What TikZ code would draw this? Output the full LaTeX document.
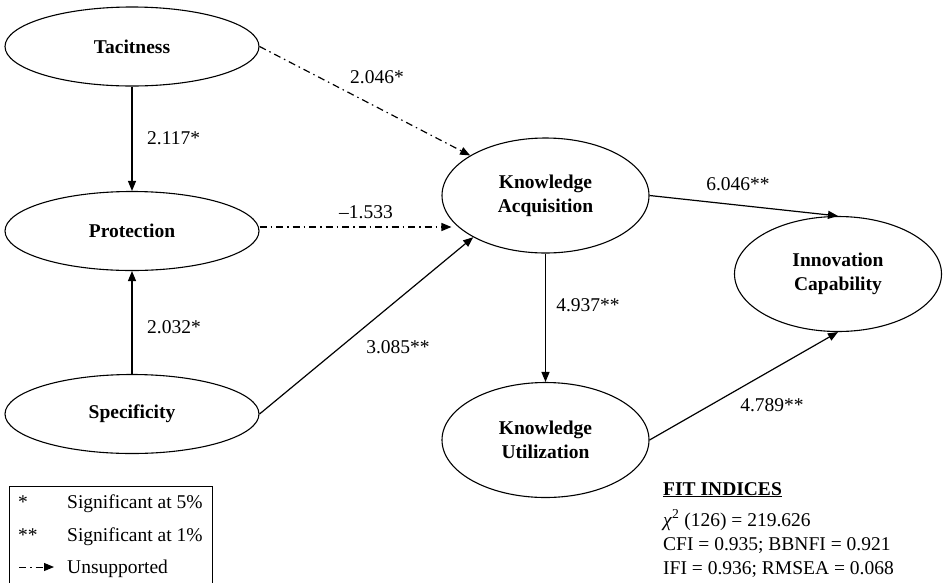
\documentclass[tikz,border=0pt]{standalone}
\usepackage{fontspec}
\setmainfont{Liberation Serif}
\usetikzlibrary{shapes.geometric,arrows.meta}
\begin{document}
\begin{tikzpicture}[x=1pt,y=-1pt,
  every node/.style={inner sep=0pt, font=\fontsize{19.5}{24}\selectfont},
  latent/.style={ellipse, draw, line width=1.1pt, align=center, font=\fontsize{19.5}{24}\selectfont\bfseries},
  wide/.style={minimum width=254pt, minimum height=79pt},
  mid/.style={minimum width=207pt, minimum height=115pt},
  conn/.style={line width=1.2pt, -{Triangle[length=10pt,width=8pt]}},
  unsup/.style={conn, dash pattern=on 7pt off 4pt on 1.5pt off 4pt},
  lab/.style={anchor=base west}
]
\useasboundingbox (0,0) rectangle (950,582);

% latent variables
\node[latent, wide] (T) at (132,46.5) {Tacitness};
\node[latent, wide] (P) at (132,231) {Protection};
\node[latent, wide] (S) at (132,414) {Specificity};
\node[latent, mid] (KA) at (545.5,195.5) {Knowledge\\Acquisition};
\node[latent, mid] (KU) at (545.5,440) {Knowledge\\Utilization};
\node[latent, mid] (IC) at (838,274) {Innovation\\Capability};

% paths
\draw[conn] (T.south) -- (P.north);
\draw[conn] (S.north) -- (P.south);
\draw[unsup] (T.east) -- (KA.152);
\draw[unsup] ([yshift=4pt]P.east) -- ([yshift=4pt,xshift=10pt]P.east -| KA.west);
\draw[conn] (S.east) -- (KA.210);
\draw[conn] (KA.east) -- (IC.north);
\draw[conn] (KA.south) -- (KU.north);
\draw[conn] (KU.east) -- (IC.south);

% path labels
\node (l1) at (377,77) {2.046*};
\node[anchor=west] (l2) at (147,138) {2.117*};
\node (l3) at (366,212) {--1.533};
\node[anchor=west] (l4) at (147,327) {2.032*};
\node (l5) at (398,347) {3.085**};
\node (l6) at (738,184) {6.046**};
\node (l7) at (588,305) {4.937**};
\node (l8) at (772,405) {4.789**};

% legend
\draw[line width=1pt] (9,583) -- (9,486) -- (212,486) -- (212,583);
\node[lab] (k1s) at (18,508) {*};
\node[lab] (k1t) at (67,508) {Significant at 5\%};
\node[lab] (k2s) at (18,541) {**};
\node[lab] (k2t) at (67,541) {Significant at 1\%};
\coordinate (ka1) at (19,567);
\coordinate (ka2) at (54,567);
\draw[unsup, line width=1pt] (ka1) -- (ka2);
\node[lab] (k3t) at (67,573) {Unsupported};

% fit indices
\node[lab] (f0) at (663,495) {\underline{\textbf{FIT INDICES}}};
\node[lab] (f1) at (663,526) {\textit{χ}\textsuperscript{2} (126) = 219.626};
\node[lab] (f2) at (663,550) {CFI = 0.935; BBNFI = 0.921};
\node[lab] (f3) at (663,574) {IFI = 0.936; RMSEA = 0.068};
\end{tikzpicture}
\end{document}
